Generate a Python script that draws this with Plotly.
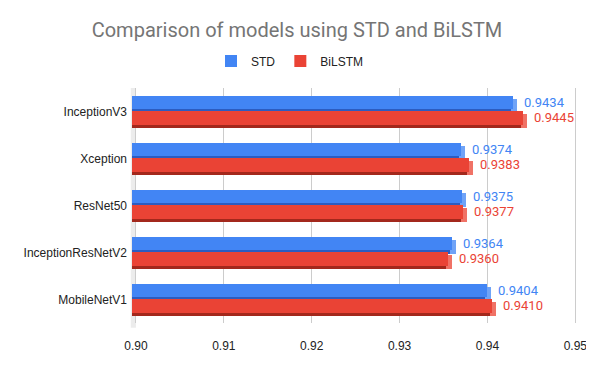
import plotly.graph_objects as go

# Data
models = ["InceptionV3", "Xception", "ResNet50", "InceptionResNetV2", "MobileNetV1"]
std_vals = [0.9434, 0.9374, 0.9375, 0.9364, 0.9404]
bilstm_vals = [0.9445, 0.9383, 0.9377, 0.9360, 0.9410]
x_ticks = [0.90, 0.91, 0.92, 0.93, 0.94, 0.95]

# page body adds an 8px margin, so the figure is a bit smaller than the window
W, H = 586, 363

BASE = 0.90
PX = 1 / 47          # one pixel in category units
DX = 0.00045         # 3D depth along value axis (~4px)
DY = 3.5 * PX        # 3D depth along category axis

SANS = "Liberation Sans, Arial, sans-serif"
ROBOTO = "Roboto, Arial, sans-serif"

series = [
    # name, values, main, side, bottom, front top px, front bottom px
    ("STD", std_vals, "#4285F4", "#6fa3f7", "#2c5cc0", -16.0, -2.5),
    ("BiLSTM", bilstm_vals, "#EA4335", "#f07266", "#a3281c", -1.0, 13.0),
]

fig = go.Figure()

for name, vals, main, side, dark, top, bot in series:
    h = (bot - top) * PX
    # back face (visible as the right-hand side strip)
    fig.add_trace(go.Bar(
        y=models, x=[v - BASE for v in vals], base=BASE, orientation="h",
        offset=top * PX + DY, width=h, marker=dict(color=side, line=dict(width=0)),
        showlegend=False, hoverinfo="skip",
    ))
    # bottom face
    fig.add_trace(go.Bar(
        y=models, x=[v - BASE - DX / 2 for v in vals], base=BASE - DX, orientation="h",
        offset=bot * PX, width=DY, marker=dict(color=dark, line=dict(width=0)),
        showlegend=False, hoverinfo="skip",
    ))
    # front face
    fig.add_trace(go.Bar(
        y=models, x=[v - BASE for v in vals], base=BASE - DX, orientation="h",
        offset=top * PX, width=h, marker=dict(color=main, line=dict(width=0)),
        name=name, customdata=vals, hovertemplate="%{y}: %{customdata:.4f}<extra></extra>",
    ))

# value labels to the right of each bar
annotations = []
for name, vals, main, side, dark, top, bot in series:
    mid = (top + bot) / 2
    for m, v in zip(models, vals):
        annotations.append(dict(
            x=v, y=m, xref="x", yref="y", text=f"{v:.4f}", showarrow=False,
            xanchor="left", yanchor="middle", xshift=5, yshift=-mid,
            font=dict(family=ROBOTO, size=13, color=main),
        ))

fig.update_layout(
    title=dict(
        text="Comparison of models using STD and BiLSTM",
        x=289 / W, xanchor="center", y=1 - 22 / H, yanchor="middle", yref="container",
        font=dict(family=ROBOTO, size=20, color="#757575"),
    ),
    legend=dict(
        orientation="h", x=282 / W, xanchor="center", xref="container",
        y=1 - 53 / H, yanchor="middle", yref="container",
        font=dict(family=SANS, size=12, color="#222222"),
        itemwidth=30,
    ),
    barmode="overlay",
    bargap=0,
    width=W, height=H,
    margin=dict(t=80, b=48, l=120, r=16),
    paper_bgcolor="white", plot_bgcolor="white",
    annotations=annotations,
    shapes=[dict(
        type="rect", xref="x", yref="paper", x0=BASE - DX * 1.3, x1=BASE,
        y0=-0.02, y1=1, fillcolor="#ececec", line=dict(width=0), layer="below",
    )],
)

fig.update_xaxes(
    range=[0.8991, 0.9503], tickvals=x_ticks, tickformat=".2f",
    showgrid=True, gridcolor="#cccccc", gridwidth=1, zeroline=False,
    ticks="outside", ticklen=12, tickcolor="rgba(0,0,0,0)",
    tickfont=dict(family=SANS, size=12, color="#222222"),
    showline=False, fixedrange=True, automargin=False,
)
fig.update_yaxes(
    type="category", categoryorder="array", categoryarray=models,
    range=[4.5, -0.5], showgrid=False, zeroline=False, showline=False,
    ticks="",
    tickfont=dict(family=SANS, size=12, color="#222222"),
    fixedrange=True, automargin=False,
)

fig.write_html("out.html")
